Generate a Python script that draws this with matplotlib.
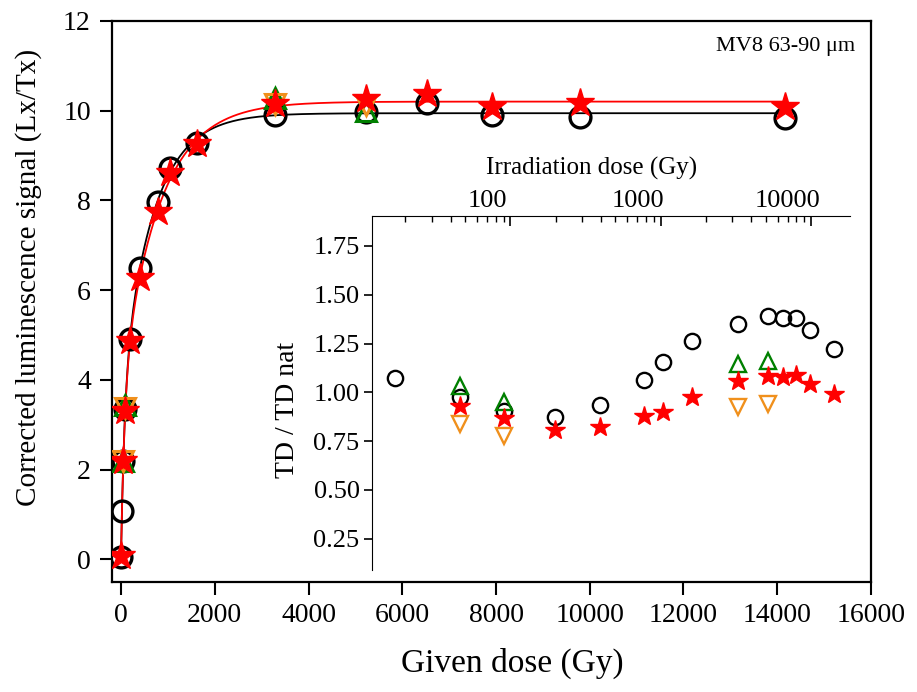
import numpy as np
import matplotlib
matplotlib.use('Agg')
import matplotlib.pyplot as plt
from matplotlib.transforms import ScaledTranslation

plt.rcParams['font.family'] = ['Liberation Serif', 'DejaVu Serif']

# given / irradiation doses (Gy)
dose = [0, 17, 46, 91, 197, 394, 780, 1037, 1625, 3280, 5220, 6520, 7920, 9790, 14160]

# main plot: corrected Lx/Tx
circ_dose = dose
circ_y = [0.06, 1.08, 2.2, 3.35, 4.92, 6.49, 7.97, 8.72, 9.27, 9.9, 9.98, 10.18, 9.9, 9.86, 9.83]
star_dose = [0, 46, 91, 197, 394, 780, 1037, 1625, 3280, 5220, 6520, 7920, 9790, 14160]
star_y = [0.08, 2.2, 3.3, 4.86, 6.27, 7.75, 8.6, 9.25, 10.15, 10.25, 10.38, 10.08, 10.17, 10.08]
up_dose = [46, 91, 3280, 5220]
up_y = [2.2, 3.43, 10.28, 10.0]
down_dose = [46, 91, 3280, 5220]
down_y = [2.2, 3.37, 10.16, 10.12]

# inset: TD / TD nat
in_circ_dose = [17, 46, 91, 197, 394, 780, 1037, 1625, 3280, 5220, 6520, 7920, 9790, 14160]
in_circ = [1.075, 0.974, 0.906, 0.875, 0.937, 1.065, 1.155, 1.263, 1.35, 1.391, 1.379, 1.379, 1.319, 1.222]
in_star_dose = [46, 91, 197, 394, 780, 1037, 1625, 3280, 5220, 6520, 7920, 9790, 14160]
in_star = [0.932, 0.87, 0.807, 0.821, 0.88, 0.898, 0.974, 1.06, 1.085, 1.08, 1.089, 1.043, 0.991]
in_up_dose = [46, 91, 3280, 5220]
in_up = [1.034, 0.952, 1.143, 1.16]
in_down_dose = [46, 91, 3280, 5220]
in_down = [0.836, 0.778, 0.927, 0.94]


def fit_curve(x, y):
    # double saturating exponential, least squares over a grid of D0 values
    x = np.asarray(x, float)
    y = np.asarray(y, float)
    best = None
    grid = np.logspace(1.5, 3.8, 60)
    for d1 in grid:
        for d2 in grid:
            if d2 <= d1:
                continue
            A = np.column_stack([np.ones_like(x), 1 - np.exp(-x / d1), 1 - np.exp(-x / d2)])
            coef, *_ = np.linalg.lstsq(A, y, rcond=None)
            err = np.sum((A @ coef - y) ** 2)
            if best is None or err < best[0]:
                best = (err, d1, d2, coef)
    _, d1, d2, c = best
    xs = np.linspace(0, x.max(), 600)
    return xs, c[0] + c[1] * (1 - np.exp(-xs / d1)) + c[2] * (1 - np.exp(-xs / d2))


fig = plt.figure(figsize=(9.17, 6.92), dpi=100)
ax = fig.add_axes([0.1218, 0.1594, 0.828, 0.8103])

xs, ys = fit_curve(circ_dose, circ_y)
ax.plot(xs, ys, color='black', lw=1.3, zorder=2)
xs, ys = fit_curve(star_dose, star_y)
ax.plot(xs, ys, color='red', lw=1.3, zorder=2)

ax.plot(circ_dose, circ_y, 'o', ms=15, mfc='none', mec='black', mew=2.4, zorder=3)
ax.plot(up_dose, up_y, '^', ms=15, mfc='none', mec='green', mew=2.2, zorder=4)
ax.plot(down_dose, down_y, 'v', ms=15, mfc='none', mec='#f0901c', mew=2.2, zorder=5)
ax.plot(star_dose, star_y, '*', ms=21, color='red', mec='red', zorder=6)

ax.set_xlim(-200, 16000)
ax.set_ylim(-0.5, 12)
ax.set_xticks(np.arange(0, 16001, 2000))
ax.set_yticks(np.arange(0, 13, 2))
ax.tick_params(direction='out', length=9, width=1.5, labelsize=20, pad=6)
for s in ax.spines.values():
    s.set_linewidth(1.6)
ax.set_xlabel('Given dose (Gy)', fontsize=24)
ax.set_ylabel('Corrected luminescence signal (Lx/Tx)', fontsize=21)
ax.xaxis.set_label_coords(0.528, -0.118)
ax.yaxis.set_label_coords(-0.092, 0.542)
ax.text(0.979, 0.972, 'MV8 63-90 μm', transform=ax.transAxes, ha='right', va='top', fontsize=16)

# inset
ins = fig.add_axes([0.4057, 0.1763, 0.5212, 0.512])
ins.set_xscale('log')
ins.plot(in_circ_dose, in_circ, 'o', ms=11, mfc='none', mec='black', mew=1.7, zorder=3)
ins.plot(in_up_dose, in_up, '^', ms=12, mfc='none', mec='green', mew=1.7, zorder=4)
ins.plot(in_down_dose, in_down, 'v', ms=12, mfc='none', mec='#f0901c', mew=1.7, zorder=5)
ins.plot(in_star_dose, in_star, '*', ms=15, color='red', mec='red', zorder=6)
ins.set_xlim(12, 18200)
ins.set_ylim(0.09, 1.905)
ins.set_yticks(np.arange(0.25, 1.76, 0.25))
ins.set_yticklabels(['%.2f' % v for v in np.arange(0.25, 1.76, 0.25)])
ins.set_xticks([100, 1000, 10000])
ins.set_xticklabels(['100', '1000', '10000'])
ins.xaxis.tick_top()
ins.xaxis.set_label_position('top')
ins.spines['right'].set_visible(False)
ins.spines['bottom'].set_visible(False)
ins.patch.set_alpha(0)
ins.tick_params(axis='x', which='major', direction='in', length=7, width=1.2, labelsize=19, pad=3)
ins.tick_params(axis='x', which='minor', direction='in', length=4, width=1.0)
ins.tick_params(axis='y', direction='out', length=6, width=1.2, labelsize=19, pad=3)
ins.set_xlabel('Irradiation dose (Gy)', fontsize=18)
ins.xaxis.set_label_coords(0.46, 1.115)
ins.set_ylabel('TD / TD nat', fontsize=20)
ins.yaxis.set_label_coords(-0.15, 0.452)

fig.canvas.draw()
shift = ScaledTranslation(-0.23, 0, fig.dpi_scale_trans)
for t in ins.xaxis.get_major_ticks():
    t.label2.set_transform(t.label2.get_transform() + shift)

fig.savefig('out.png', dpi=100)
